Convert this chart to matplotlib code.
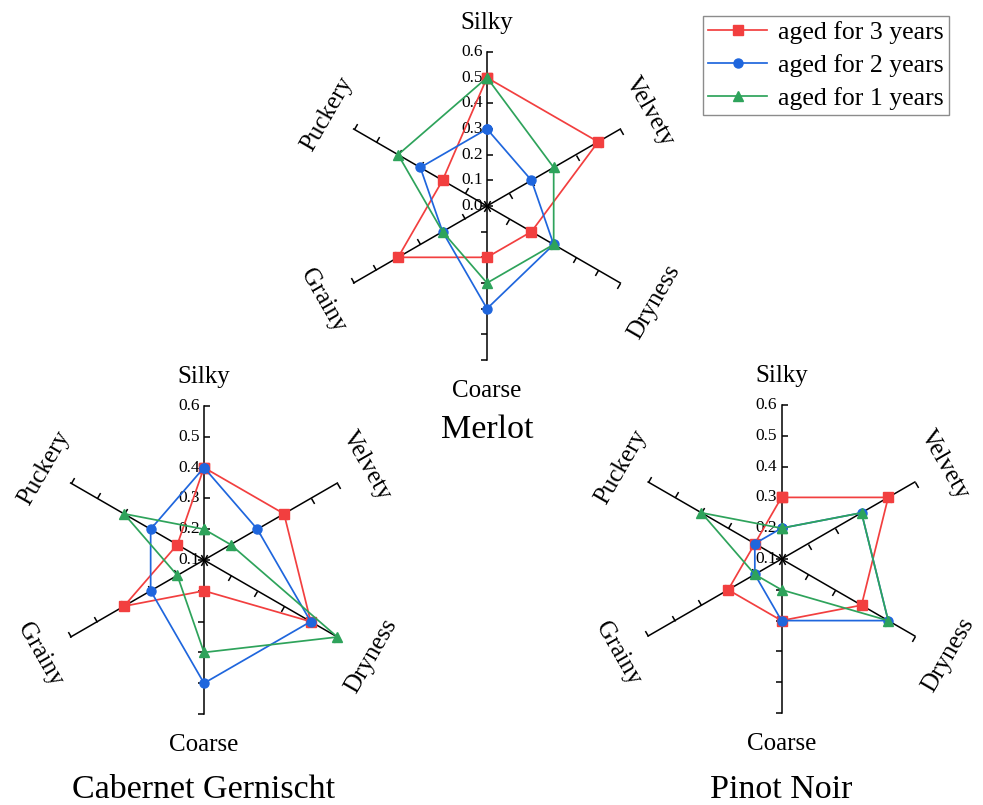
import numpy as np
import matplotlib
matplotlib.use("Agg")
import matplotlib.pyplot as plt
from matplotlib.markers import MarkerStyle
from matplotlib.path import Path
from matplotlib.transforms import Affine2D

plt.rcParams['font.family'] = ['Liberation Serif', 'DejaVu Serif']

# ---------------- data ----------------
categories = ['Silky', 'Velvety', 'Dryness', 'Coarse', 'Grainy', 'Puckery']
series_labels = ['aged for 3 years', 'aged for 2 years', 'aged for 1 years']

merlot_3y = [0.5, 0.5, 0.2, 0.2, 0.4, 0.2]
merlot_2y = [0.3, 0.2, 0.3, 0.4, 0.2, 0.3]
merlot_1y = [0.5, 0.3, 0.3, 0.3, 0.2, 0.4]

cabernet_3y = [0.4, 0.4, 0.5, 0.2, 0.4, 0.2]
cabernet_2y = [0.4, 0.3, 0.5, 0.5, 0.3, 0.3]
cabernet_1y = [0.2, 0.2, 0.6, 0.4, 0.2, 0.4]

pinot_3y = [0.3, 0.5, 0.4, 0.3, 0.3, 0.2]
pinot_2y = [0.2, 0.4, 0.5, 0.3, 0.2, 0.2]
pinot_1y = [0.2, 0.4, 0.5, 0.2, 0.2, 0.4]

# ---------------- style ----------------
colors = ['#F23F3F', '#1F66DD', '#2EA35B']
markers = ['s', 'o', '^']
label_k = [1.19, 1.22, 1.25, 1.2, 1.23, 1.2]
label_rot = [0, -60, 60, 0, -60, 60]

W, H = 983, 805
R = 154
fig = plt.figure(figsize=(W / 100, H / 100), dpi=100)


def radar(cx, cy, rmin, rmax, series, title, ty):
    ax = fig.add_axes([(cx - R) / W, (H - cy - R) / H, 2 * R / W, 2 * R / H],
                      projection='polar')
    ax.set_theta_zero_location('N')
    ax.set_theta_direction(-1)
    ax.set_ylim(rmin, rmax)
    ax.axis('off')
    n = len(categories)
    thetas = np.deg2rad(np.arange(n) * 360 / n)
    tick_vals = np.round(np.arange(rmin, rmax + 1e-9, 0.1), 1)
    for i, t in enumerate(thetas):
        ax.plot([t, t], [rmin, rmax], color='black', lw=1.1, zorder=2,
                clip_on=False)
        mk = MarkerStyle(Path([(0, 0), (1, 0)]), fillstyle='none',
                         transform=Affine2D().rotate_deg(-np.rad2deg(t)))
        ax.plot(np.full(len(tick_vals), t), tick_vals, ls='none', marker=mk,
                ms=9, mec='black', mew=1.1, zorder=2, clip_on=False)
        if i == 0:
            for v in tick_vals:
                ax.annotate(f'{v:.1f}', xy=(t, v), xytext=(-3.0, 0),
                            textcoords='offset points', ha='right',
                            va='center', fontsize=12.5, zorder=3)
        a = np.pi / 2 - t
        k = label_k[i]
        ax.text(0.5 + 0.5 * k * np.cos(a), 0.5 + 0.5 * k * np.sin(a),
                categories[i], transform=ax.transAxes, ha='center',
                va='center', rotation=label_rot[i], rotation_mode='anchor',
                fontsize=18, clip_on=False)
    handles = []
    for vals, c, m in zip(series, colors, markers):
        th = np.append(thetas, thetas[0])
        rv = np.append(vals, vals[0])
        h, = ax.plot(th, rv, color=c, lw=1.25, marker=m, ms=6.5, mfc=c,
                     mec=c, zorder=4, clip_on=False)
        handles.append(h)
    fig.text(cx / W, 1 - ty / H, title, ha='center', va='center', fontsize=24.5)
    return handles


handles = radar(487, 206, 0.0, 0.6, [merlot_3y, merlot_2y, merlot_1y],
                'Merlot', 430)
radar(204, 560, 0.1, 0.6, [cabernet_3y, cabernet_2y, cabernet_1y],
      'Cabernet Gernischt', 790)
radar(781.5, 559, 0.1, 0.6, [pinot_3y, pinot_2y, pinot_1y],
      'Pinot Noir', 790)

leg = fig.legend(handles, series_labels, loc='upper left',
                 bbox_to_anchor=(703 / W, 1 - 16 / H), borderaxespad=0,
                 fontsize=18.5, handlelength=2.3, handletextpad=0.42,
                 labelspacing=0.39, borderpad=0.2, fancybox=False,
                 edgecolor='#8c8c8c', framealpha=1)
leg.get_frame().set_linewidth(1.0)

fig.savefig('out.png', dpi=100)
